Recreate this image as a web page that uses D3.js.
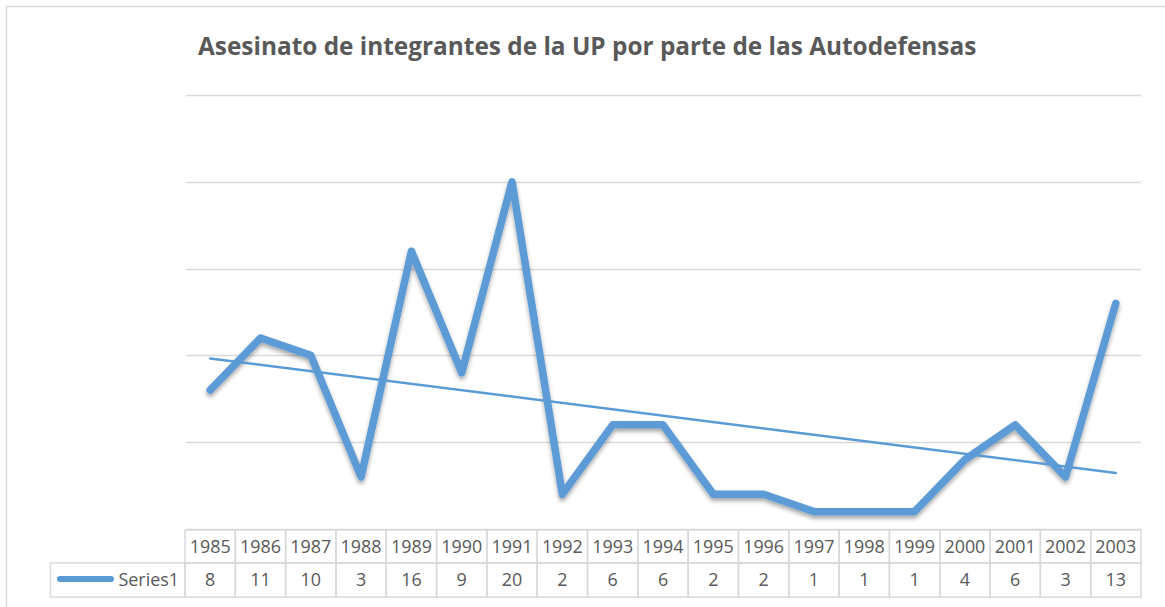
<!DOCTYPE html>
<html>
<head>
<meta charset="utf-8">
<script src="https://cdn.jsdelivr.net/npm/d3@7"></script>
<style>
	body { margin: 0; background: #fff; }
	svg { display: block; font-family: 'Open Sans', sans-serif; }
</style>
</head>
<body>
<svg id="chart" width="1165" height="607"></svg>
<script>
var title = 'Asesinato de integrantes de la UP por parte de las Autodefensas';
var seriesName = 'Series1';
var years = ['1985','1986','1987','1988','1989','1990','1991','1992','1993','1994',
	'1995','1996','1997','1998','1999','2000','2001','2002','2003'];
var values = [8, 11, 10, 3, 16, 9, 20, 2, 6, 6, 2, 2, 1, 1, 1, 4, 6, 3, 13];
var yTicks = [0, 5, 10, 15, 20, 25];

var blue = '#5b9bd5',
	grid = '#d9d9d9',
	textCol = '#595959';

var svg = d3.select('#chart');

var margin = {left : 185, right : 24, top : 95, bottom : 78};
var plotW = 1165 - margin.left - margin.right,
	plotH = 607 - margin.top - margin.bottom;

// frame (right/bottom edges fall outside the picture)
svg.append('rect')
	.attr('x', 6.5).attr('y', 6.5)
	.attr('width', 1200).attr('height', 700)
	.attr('fill', 'none')
	.attr('stroke', grid)
	.attr('stroke-width', 1.5);

var defs = svg.append('defs');
var f = defs.append('filter').attr('id', 'shadow')
	.attr('x', '-5%').attr('y', '-10%').attr('width', '110%').attr('height', '130%');
f.append('feDropShadow')
	.attr('dx', 0).attr('dy', 3)
	.attr('stdDeviation', 2.2)
	.attr('flood-color', '#000')
	.attr('flood-opacity', 0.35);

// fit a text node's font size to a target width
function fitText(sel, base, target){
	var w = sel.node().getComputedTextLength();
	return base * target / w;
}

// title
var t = svg.append('text')
	.attr('x', 198)
	.attr('y', 55)
	.attr('fill', textCol)
	.style('font-weight', 'bold')
	.style('font-size', '20px')
	.text(title);
t.style('font-size', fitText(t, 20, 779) + 'px');

// table font size, sized so a year label is ~41px wide like the original
var probe = svg.append('text').style('font-size', '18px').text(years[0]);
var tableFont = fitText(probe, 18, 41);
probe.remove();

var x = d3.scaleBand()
	.domain(years)
	.range([0, plotW]);

var y = d3.scaleLinear()
	.domain([0, 25])
	.range([plotH, 0]);

var mainG = svg.append('g')
	.attr('transform', `translate(${margin.left},${margin.top})`);

// gridlines
mainG.append('g')
	.selectAll('line')
	.data(yTicks)
	.enter()
	.append('line')
	.attr('x1', 1)
	.attr('x2', plotW)
	.attr('y1', (d) => Math.round(y(d)) + 0.5)
	.attr('y2', (d) => Math.round(y(d)) + 0.5)
	.attr('stroke', grid)
	.attr('stroke-width', 1.5);

// series line
var line = d3.line()
	.x((d, i) => x(years[i]) + x.bandwidth() / 2)
	.y((d) => y(d));

mainG.append('path')
	.datum(values)
	.attr('d', line)
	.attr('fill', 'none')
	.attr('stroke', blue)
	.attr('stroke-width', 7.5)
	.attr('stroke-linejoin', 'round')
	.attr('stroke-linecap', 'round')
	.attr('filter', 'url(#shadow)');

// linear trendline (least squares over index)
var n = values.length,
	mx = d3.mean(values, (d, i) => i),
	my = d3.mean(values),
	slope = d3.sum(values, (d, i) => (i - mx) * (d - my)) / d3.sum(values, (d, i) => (i - mx) * (i - mx)),
	icpt = my - slope * mx;

mainG.append('line')
	.attr('x1', x(years[0]) + x.bandwidth() / 2)
	.attr('y1', y(icpt))
	.attr('x2', x(years[n - 1]) + x.bandwidth() / 2)
	.attr('y2', y(icpt + slope * (n - 1)))
	.attr('stroke', blue)
	.attr('stroke-width', 2.5)
	.attr('stroke-linecap', 'round');

// data table
var tableTop = margin.top + plotH + 1,
	rowH = [33, 34],
	tableG = svg.append('g').attr('class', 'data-table');

var bx = (d) => margin.left + x(d);

// year row
tableG.selectAll('rect.year')
	.data(years)
	.enter()
	.append('rect')
	.attr('x', (d) => bx(d))
	.attr('y', tableTop)
	.attr('width', x.bandwidth())
	.attr('height', rowH[0])
	.attr('fill', 'none')
	.attr('stroke', grid)
	.attr('stroke-width', 1.5);

tableG.selectAll('text.year')
	.data(years)
	.enter()
	.append('text')
	.attr('x', (d) => bx(d) + x.bandwidth() / 2)
	.attr('y', tableTop + rowH[0] / 2)
	.attr('dy', '0.36em')
	.attr('text-anchor', 'middle')
	.attr('fill', textCol)
	.style('font-size', tableFont + 'px')
	.text((d) => d);

// value row
var row2 = tableTop + rowH[0];
tableG.selectAll('rect.val')
	.data(years)
	.enter()
	.append('rect')
	.attr('x', (d) => bx(d))
	.attr('y', row2)
	.attr('width', x.bandwidth())
	.attr('height', rowH[1])
	.attr('fill', 'none')
	.attr('stroke', grid)
	.attr('stroke-width', 1.5);

tableG.selectAll('text.val')
	.data(values)
	.enter()
	.append('text')
	.attr('x', (d, i) => bx(years[i]) + x.bandwidth() / 2)
	.attr('y', row2 + rowH[1] / 2)
	.attr('dy', '0.36em')
	.attr('text-anchor', 'middle')
	.attr('fill', textCol)
	.style('font-size', tableFont + 'px')
	.text((d) => d);

// legend cell
tableG.append('rect')
	.attr('x', 50.5)
	.attr('y', row2)
	.attr('width', margin.left - 50.5)
	.attr('height', rowH[1])
	.attr('fill', 'none')
	.attr('stroke', grid)
	.attr('stroke-width', 1.5);

tableG.append('line')
	.attr('x1', 60).attr('x2', 111)
	.attr('y1', row2 + rowH[1] / 2 - 1)
	.attr('y2', row2 + rowH[1] / 2 - 1)
	.attr('stroke', blue)
	.attr('stroke-width', 6)
	.attr('stroke-linecap', 'round');

tableG.append('text')
	.attr('x', margin.left - 6)
	.attr('y', row2 + rowH[1] / 2)
	.attr('dy', '0.36em')
	.attr('text-anchor', 'end')
	.attr('fill', textCol)
	.style('font-size', tableFont + 'px')
	.text(seriesName);
</script>
</body>
</html>
